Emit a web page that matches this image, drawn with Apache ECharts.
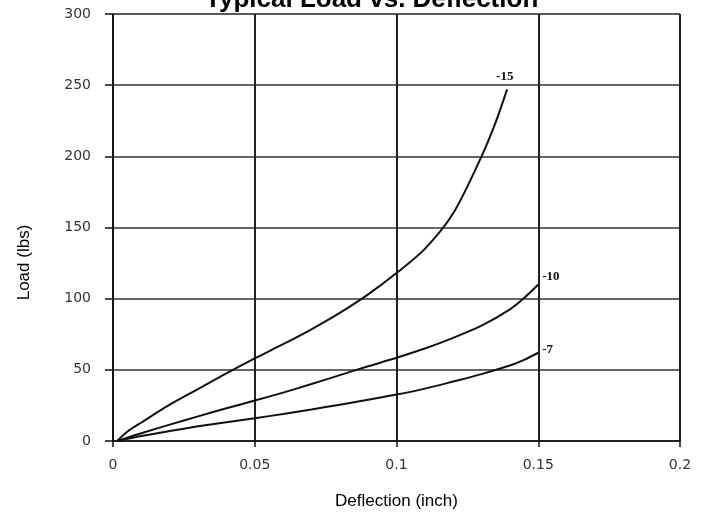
<!DOCTYPE html>
<html>
<head>
<meta charset="utf-8">
<script src="https://cdn.jsdelivr.net/npm/echarts@6/dist/echarts.min.js"></script>
<style>html,body{margin:0;padding:0;background:#fff;}#c{width:703px;height:515px;}</style>
</head>
<body>
<div id="c"></div>
<script>
var seriesNames = ['-15', '-10', '-7'];
var curve15 = [[0.0015,0],[0.005,6.5],[0.01,13],[0.02,25.5],[0.03,36.5],[0.04,47.5],[0.05,58],[0.06,68],[0.07,78.5],[0.08,90],[0.09,103],[0.1,118],[0.11,135],[0.12,160],[0.13,200],[0.135,224],[0.139,247]];
var curve10 = [[0.0015,0],[0.01,5.5],[0.02,11.5],[0.03,17.3],[0.04,23],[0.05,28.4],[0.06,34],[0.07,40],[0.08,46.3],[0.09,52.5],[0.1,58.5],[0.11,65],[0.12,72.5],[0.13,81],[0.14,92.5],[0.145,100.5],[0.15,110]];
var curve7 = [[0.0015,0],[0.01,3.5],[0.02,7],[0.03,10.3],[0.04,13.2],[0.05,16],[0.06,19],[0.07,22.2],[0.08,25.5],[0.09,29],[0.1,32.6],[0.11,36.8],[0.12,41.8],[0.13,47],[0.14,53],[0.145,57],[0.15,62]];
var xTicks = [0, 0.05, 0.1, 0.15, 0.2];
var yTicks = [0, 50, 100, 150, 200, 250, 300];
var labelOffsets = [[-11,-13],[4,-8],[4,-3]];

var chart = echarts.init(document.getElementById('c'), null, {renderer:'canvas'});
var curves = [curve15, curve10, curve7];
var series = curves.map(function(d, i){
  return {
    name: seriesNames[i], type:'line', data:d, smooth:0.3, symbol:'none',
    lineStyle:{color:'#111', width:2},
    endLabel:{show:true, formatter:'{a}', offset:labelOffsets[i], distance:0,
      fontFamily:'Liberation Serif', fontWeight:'bold', fontSize:13, color:'#111'}
  };
});
chart.setOption({
  animation:false,
  backgroundColor:'#fff',
  title:{text:'Typical Load vs. Deflection', left:200, top:-18,
    textStyle:{fontFamily:'Liberation Sans', fontWeight:'bold', fontSize:26, color:'#000'}},
  grid:{left:113, right:23, top:14, bottom:65, show:true, borderColor:'#999', borderWidth:1},
  xAxis:{type:'value', min:0, max:0.2, interval:0.05,
    name:'Deflection (inch)', nameLocation:'middle', nameGap:52,
    nameTextStyle:{fontFamily:'Liberation Sans', fontSize:17, color:'#000'},
    axisLine:{show:true, onZero:false, lineStyle:{color:'#111', width:1.5}},
    axisTick:{show:true, inside:false, length:6, lineStyle:{color:'#111', width:1.5}},
    axisLabel:{margin:17, fontFamily:'DejaVu Sans', fontSize:14, color:'#333',
      formatter:function(v){ var s = xTicks.filter(function(t){return Math.abs(t-v)<1e-9;}); return s.length? String(s[0]) : ''; },
      showMaxLabel:true},
    splitLine:{show:true, lineStyle:{color:'#222', width:2}}},
  yAxis:{type:'value', min:0, max:300, interval:50,
    name:'Load (lbs)', nameLocation:'middle', nameGap:80, nameRotate:90,
    nameTextStyle:{fontFamily:'Liberation Sans', fontSize:17, color:'#000', padding:[0,70,0,0]},
    axisLine:{show:true, lineStyle:{color:'#111', width:1.5}},
    axisTick:{show:true, inside:false, length:8, lineStyle:{color:'#111', width:1.5}},
    axisLabel:{margin:22, fontFamily:'DejaVu Sans', fontSize:14, color:'#333',
      formatter:function(v){ return yTicks.indexOf(v)>=0 ? String(v) : ''; }},
    splitLine:{show:true, lineStyle:{color:'#333', width:1.5}}},
  series: series
});
</script>
</body>
</html>
